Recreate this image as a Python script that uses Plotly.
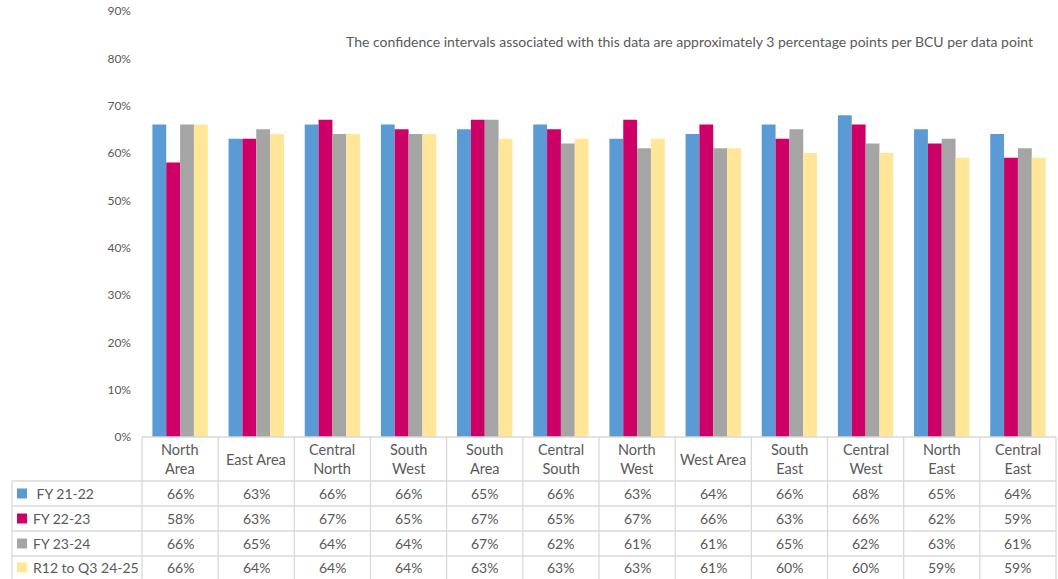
import plotly.graph_objects as go

categories = ["North Area", "East Area", "Central North", "South West", "South Area",
              "Central South", "North West", "West Area", "South East", "Central West",
              "North East", "Central East"]
header_labels = ["North<br>Area", "East Area", "Central<br>North", "South<br>West", "South<br>Area",
                 "Central<br>South", "North<br>West", "West Area", "South<br>East", "Central<br>West",
                 "North<br>East", "Central<br>East"]
series_names = [" FY 21-22", "FY 22-23", "FY 23-24", "R12 to Q3 24-25"]
fy2122 = [66, 63, 66, 66, 65, 66, 63, 64, 66, 68, 65, 64]
fy2223 = [58, 63, 67, 65, 67, 65, 67, 66, 63, 66, 62, 59]
fy2324 = [66, 65, 64, 64, 67, 62, 61, 61, 65, 62, 63, 61]
r12 = [66, 64, 64, 64, 63, 63, 63, 61, 60, 60, 59, 59]
series_values = [fy2122, fy2223, fy2324, r12]
colors = ["#5B9BD5", "#CC0066", "#A5A5A5", "#FFE699"]
y_ticks = [0, 10, 20, 30, 40, 50, 60, 70, 80, 90]
note = "The confidence intervals associated with this data are approximately 3 percentage points per BCU per data point"

FONT = "Lato"
TXT = "#595959"
GRID = "#D9D9D9"

W, H = 1058, 579
ML, MR, MT, MB = 142, 2, 11, 142
PH = H - MT - MB
PW = W - ML - MR


def py(px):  # pixel y -> paper y
    return (H - MB - px) / PH


def pxp(px):  # pixel x -> paper x
    return (px - ML) / PW


fig = go.Figure()
for name, vals, col in zip(series_names, series_values, colors):
    fig.add_trace(go.Bar(x=categories, y=[v / 100 for v in vals], name=name,
                         marker=dict(color=col, line=dict(width=0))))

shapes = []
annotations = []
n = len(categories)
top_px = H - MB  # 437
row_lines = [481, 506, 531, 556]
row_centers = [493.5, 518.5, 543.5, 567.5]

# horizontal lines
shapes.append(dict(type="line", xref="paper", yref="paper", x0=0, x1=1, y0=py(top_px), y1=py(top_px),
                   line=dict(color=GRID, width=1.3)))
for yl in row_lines:
    shapes.append(dict(type="line", xref="paper", yref="paper", x0=pxp(12), x1=1, y0=py(yl), y1=py(yl),
                       line=dict(color=GRID, width=1.3)))
# vertical lines
for i in range(n + 1):
    shapes.append(dict(type="line", xref="paper", yref="paper", x0=i / n, x1=i / n,
                       y0=py(top_px), y1=py(H), line=dict(color=GRID, width=1.3)))
shapes.append(dict(type="line", xref="paper", yref="paper", x0=pxp(12), x1=pxp(12),
                   y0=py(row_lines[0]), y1=py(H), line=dict(color=GRID, width=1.3)))

# header labels
for i, lab in enumerate(header_labels):
    annotations.append(dict(x=(i + 0.5) / n, y=py(459), xref="paper", yref="paper", text=lab,
                            showarrow=False, font=dict(family=FONT, size=14.5, color=TXT),
                            xanchor="center", yanchor="middle"))
# rows
for r, (name, vals, col) in enumerate(zip(series_names, series_values, colors)):
    yc = row_centers[r]
    shapes.append(dict(type="rect", xref="paper", yref="paper", x0=pxp(17), x1=pxp(27),
                       y0=py(yc - 5), y1=py(yc + 5), fillcolor=col, line=dict(width=0)))
    annotations.append(dict(x=pxp(31), y=py(yc), xref="paper", yref="paper", text=name,
                            showarrow=False, font=dict(family=FONT, size=14, color=TXT),
                            xanchor="left", yanchor="middle"))
    for i, v in enumerate(vals):
        annotations.append(dict(x=(i + 0.5) / n, y=py(yc), xref="paper", yref="paper", text=f"{v}%",
                                showarrow=False, font=dict(family=FONT, size=14, color=TXT),
                                xanchor="center", yanchor="middle"))

annotations.append(dict(x=pxp(689), y=py(41), xref="paper", yref="paper", text=note, showarrow=False,
                        font=dict(family=FONT, size=14, color=TXT), xanchor="center", yanchor="middle"))

fig.update_layout(
    width=W, height=H,
    margin=dict(l=ML, r=MR, t=MT, b=MB),
    paper_bgcolor="white", plot_bgcolor="white",
    barmode="group", bargap=0.273, bargroupgap=0,
    showlegend=False,
    shapes=shapes, annotations=annotations,
    font=dict(family=FONT, color=TXT),
)
fig.update_xaxes(showticklabels=False, showgrid=False, showline=False, zeroline=False, ticks="")
fig.update_yaxes(range=[0, 0.9], tickvals=[t / 100 for t in y_ticks], ticktext=[f"{t}%" for t in y_ticks],
                 showgrid=False, zeroline=False, showline=False, ticks="", ticklabelstandoff=10,
                 tickfont=dict(family=FONT, size=12, color=TXT))

fig.write_html("out.html")
